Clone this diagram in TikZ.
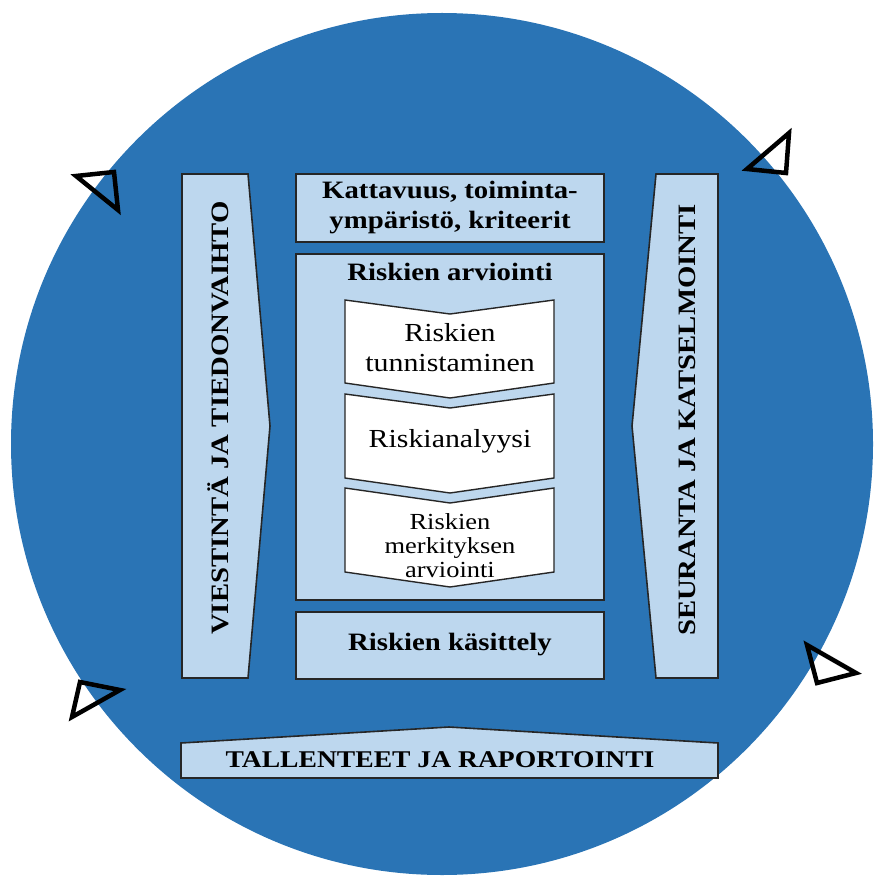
\documentclass[tikz,border=0pt]{standalone}
\usepackage{fontspec}
\setmainfont{Liberation Serif}[FakeStretch=1.15]
\definecolor{circblue}{RGB}{42,116,181}
\definecolor{boxfill}{RGB}{189,215,238}
\begin{document}
\begin{tikzpicture}[x=1pt,y=-1pt,
  panel/.style={draw=black!85, line width=1.6pt, fill=boxfill, line join=miter},
  chev/.style={draw=black!85, line width=1.4pt, fill=white, line join=miter},
  tri/.style={draw=black, line width=4.5pt, line join=miter},
  lbl/.style={font=\bfseries\fontsize{25}{30}\selectfont, align=center, inner sep=0pt},
  clbl/.style={font=\fontsize{26}{30}\selectfont, align=center, inner sep=0pt}]
\useasboundingbox (0,0) rectangle (875,882);
\fill[circblue] (442,444) circle[radius=431];
% side arrows
\draw[panel] (182,174) -- (248,174) -- (270,426) -- (248,678) -- (182,678) -- cycle;
\draw[panel] (656,174) -- (718,174) -- (718,678) -- (656,678) -- (632,426) -- cycle;
% boxes
\draw[panel] (296,174) rectangle (604,242);
\draw[panel] (296,254) rectangle (604,600);
\draw[panel] (296,612) rectangle (604,679);
% chevrons
\draw[chev] (345,300) -- (450,314) -- (554,300) -- (554,383) -- (450,398) -- (345,383) -- cycle;
\draw[chev] (345,394) -- (450,408) -- (554,394) -- (554,478) -- (450,493) -- (345,478) -- cycle;
\draw[chev] (345,488) -- (450,503) -- (554,488) -- (554,572) -- (450,587) -- (345,572) -- cycle;
% banner
\draw[panel] (181,743) -- (449,727) -- (718,743) -- (718,778) -- (181,778) -- cycle;
% triangles
\draw[tri] (76,176) -- (114,172) -- (118,210) -- cycle;
\draw[tri] (747,169) -- (789,133) -- (786,173) -- cycle;
\draw[tri] (72,717) -- (80,682) -- (120,690) -- cycle;
\draw[tri] (807,645) -- (856,673) -- (817,683) -- cycle;
% texts
\node[lbl] (scope) at (450,208) {Kattavuus, toiminta-\\ympäristö, kriteerit};
\node[lbl] (assess) at (450,272) {Riskien arviointi};
\node[clbl] (ident) at (450,348) {Riskien\\tunnistaminen};
\node[clbl] (anal) at (450,441) {Riskianalyysi};
\node[clbl, font=\fontsize{23}{24}\selectfont] (evalu) at (450,546) {Riskien\\merkityksen\\arviointi};
\node[lbl] (treat) at (450,645) {Riskien käsittely};
\node[lbl, rotate=90] (comm) at (218,418) {VIESTINTÄ JA TIEDONVAIHTO};
\node[lbl, rotate=90] (monit) at (687,420) {SEURANTA JA KATSELMOINTI};
\node[lbl, font=\bfseries\fontsize{24}{29}\selectfont] (record) at (440,760) {TALLENTEET JA RAPORTOINTI};
\end{tikzpicture}
\end{document}
